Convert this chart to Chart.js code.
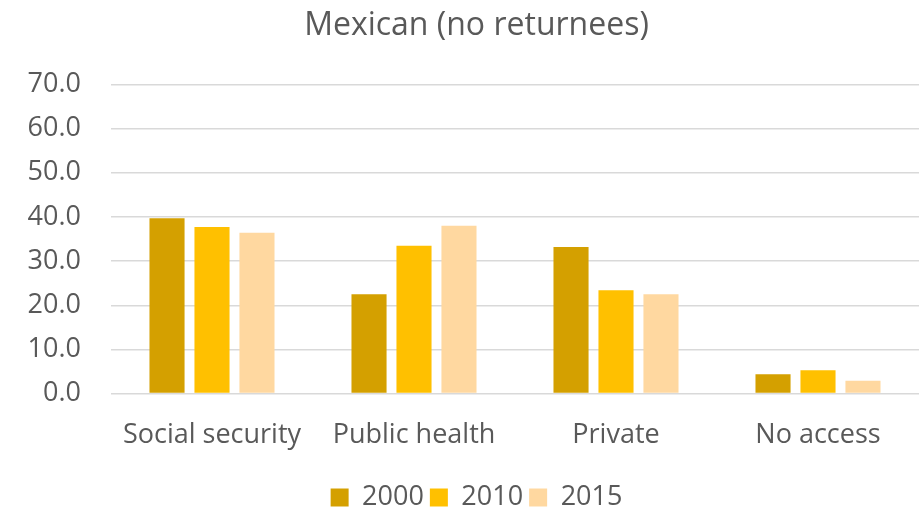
<!DOCTYPE html>
<html>
<head>
<meta charset="utf-8">
<script src="https://cdn.jsdelivr.net/npm/chart.js@4"></script>
<style>
  html, body { margin: 0; padding: 0; background: #fff; }
  #wrap { width: 920px; height: 513px; }
</style>
</head>
<body>
<div id="wrap"><canvas id="chart"></canvas></div>
<script>
// categories and series
const categories = ['Social security', 'Public health', 'Private', 'No access'];
const years = ['2000', '2010', '2015'];
const v2000 = [39.7, 22.5, 33.2, 4.4];
const v2010 = [37.7, 33.5, 23.4, 5.3];
const v2015 = [36.4, 38.0, 22.5, 2.9];
const yTicks = [0, 10, 20, 30, 40, 50, 60, 70];

const colors = ['#D4A000', '#FFC000', '#FFD8A0'];
const textColor = '#595959';
const fontFamily = '"Open Sans", sans-serif';

const ctx = document.getElementById('chart').getContext('2d');
new Chart(ctx, {
    type: 'bar',
    data: {
        labels: categories,
        datasets: [v2000, v2010, v2015].map((vals, i) => ({
            label: years[i],
            data: vals,
            backgroundColor: colors[i],
            borderWidth: 0,
            barPercentage: 0.78,
            categoryPercentage: 0.668
        }))
    },
    options: {
        responsive: true,
        maintainAspectRatio: false,
        animation: false,
        // left padding moves the title/legend centre right, like in the original
        layout: { padding: { left: 34, right: 1, top: 0, bottom: -8 } },
        plugins: {
            title: {
                display: true,
                text: 'Mexican (no returnees)',
                color: textColor,
                font: { family: fontFamily, size: 32, weight: 'normal' },
                padding: { top: 7, bottom: 39 }
            },
            legend: {
                position: 'bottom',
                labels: {
                    color: textColor,
                    font: { family: fontFamily, size: 27 },
                    boxWidth: 18,
                    boxHeight: 18,
                    padding: 6
                }
            },
            tooltip: { enabled: false }
        },
        scales: {
            x: {
                grid: { display: false, drawTicks: false },
                border: { display: false },
                ticks: {
                    color: textColor,
                    font: { family: fontFamily, size: 27 },
                    padding: 26
                }
            },
            y: {
                min: 0,
                max: 70,
                afterBuildTicks: axis => { axis.ticks = yTicks.map(v => ({ value: v })); },
                afterFit: axis => { axis.width = 77; },
                // labels reach into the left padding, so don't clip them to the axis box
                afterUpdate: axis => { axis._computeLabelArea = () => undefined; },
                grid: { color: '#D9D9D9', lineWidth: 1.5, drawTicks: false },
                border: { display: false },
                ticks: {
                    color: textColor,
                    font: { family: fontFamily, size: 27 },
                    padding: 30,
                    callback: v => v.toFixed(1)
                }
            }
        }
    }
});
</script>
</body>
</html>
